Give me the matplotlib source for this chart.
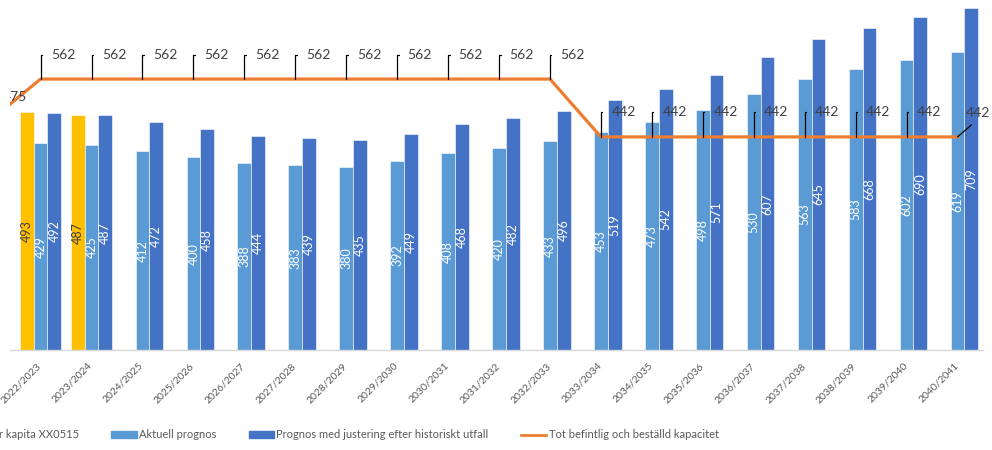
import matplotlib
matplotlib.use("Agg")
import matplotlib.pyplot as plt
from matplotlib.patches import Patch
from matplotlib.lines import Line2D
from matplotlib.transforms import ScaledTranslation
import numpy as np

plt.rcParams['font.family'] = ['Lato', 'DejaVu Sans']

# kategorier (läsår)
kategorier = ["2022/2023", "2023/2024", "2024/2025", "2025/2026", "2026/2027",
              "2027/2028", "2028/2029", "2029/2030", "2030/2031", "2031/2032",
              "2032/2033", "2033/2034", "2034/2035", "2035/2036", "2036/2037",
              "2037/2038", "2038/2039", "2039/2040", "2040/2041"]

# utfall (bara de två första åren)
utfall = [493, 487]
aktuell = [429, 425, 412, 400, 388, 383, 380, 392, 408, 420,
           433, 453, 473, 498, 530, 563, 583, 602, 619]
justerad = [492, 487, 472, 458, 444, 439, 435, 449, 468, 482,
            496, 519, 542, 571, 607, 645, 668, 690, 709]
# kapacitet, första värdet hör till 2021/2022 som är avklippt
kapacitet_fore = 475
kapacitet = [562, 562, 562, 562, 562, 562, 562, 562, 562, 562,
             562, 442, 442, 442, 442, 442, 442, 442, 442]

GUL = "#FFC000"
LJUSBLA = "#5B9BD5"
MORKBLA = "#4472C4"
ORANGE = "#ED7D31"
GRA = "#595959"
MORK = "#404040"

fig = plt.figure(figsize=(9.92, 4.5), dpi=100)
ax = fig.add_axes([10 / 992, 100 / 450, 973 / 992, 350 / 450])

x = np.arange(len(kategorier))
w = 0.27

b1 = ax.bar(x[:len(utfall)] - w, utfall, w, color=GUL, edgecolor="white", linewidth=0.4)
b2 = ax.bar(x, aktuell, w, color=LJUSBLA, edgecolor="white", linewidth=0.4)
b3 = ax.bar(x + w, justerad, w, color=MORKBLA, edgecolor="white", linewidth=0.4)

ax.bar_label(b1, label_type="center", rotation=90, color=MORK, fontsize=9)
ax.bar_label(b2, label_type="center", rotation=90, color="white", fontsize=9)
ax.bar_label(b3, label_type="center", rotation=90, color="white", fontsize=9)

# kapacitetslinjen (klipps vid diagramytan)
xs = np.concatenate([[-1], x])
ys = [kapacitet_fore] + kapacitet
ax.plot(xs, ys, color=ORANGE, lw=2.3, zorder=3)

# datalabels för linjen
ax.annotate(str(kapacitet_fore), xy=(-1, kapacitet_fore), xytext=(13.5, 24),
            textcoords="offset pixels", ha="left", va="center",
            fontsize=10, color=MORK, annotation_clip=False, clip_on=True)
for i, v in enumerate(kapacitet):
    if i == len(kapacitet) - 1:
        ax.annotate(str(v), xy=(i, v), xytext=(8, 23.5),
                    textcoords="offset pixels", ha="left", va="center",
                    fontsize=10, color=MORK, annotation_clip=False,
                    arrowprops=dict(arrowstyle="-", color="black", lw=0.9,
                                    relpos=(0.5, 0), shrinkA=3, shrinkB=0))
    else:
        ax.annotate(str(v), xy=(i, v), xytext=(10.5, 24.5),
                    textcoords="offset pixels", ha="left", va="center",
                    fontsize=10, color=MORK, annotation_clip=False,
                    arrowprops=dict(arrowstyle="-", color="black", lw=0.9,
                                    connectionstyle="angle,angleA=0,angleB=90,rad=0",
                                    relpos=(0, 0.5), shrinkA=4.5, shrinkB=0))

ax.set_xlim(-0.6, 18.5)
ax.set_ylim(0, 726)
ax.set_yticks([])
for s in ["top", "right", "left"]:
    ax.spines[s].set_visible(False)
ax.spines["bottom"].set_color("#D9D9D9")
ax.spines["bottom"].set_linewidth(1)

ax.set_xticks(x)
ax.set_xticklabels(kategorier, rotation=45, ha="right", fontsize=7.5, color=GRA)
ax.tick_params(axis="x", length=0, pad=8)
flytt = ScaledTranslation(2.5 / 100, 0, fig.dpi_scale_trans)
for lbl in ax.get_xticklabels():
    lbl.set_transform(lbl.get_transform() + flytt)

handles = [Patch(color=GUL), Patch(color=LJUSBLA), Patch(color=MORKBLA),
           Line2D([0], [0], color=ORANGE, lw=2)]
labels = ["Utfall per kapita XX0515", "Aktuell prognos",
          "Prognos med justering efter historiskt utfall",
          "Tot befintlig och beställd kapacitet"]
leg = fig.legend(handles, labels, ncol=4, frameon=False, fontsize=8,
                 labelcolor=GRA, handlelength=2.3, handleheight=0.55,
                 handletextpad=0.2, columnspacing=2.9,
                 loc="center left", bbox_to_anchor=(0, 15 / 450), borderaxespad=0)

fig.canvas.draw()
bb = leg.get_texts()[1].get_window_extent()
dx = 139 - bb.x0
leg.set_bbox_to_anchor((dx / 992, 15 / 450))

fig.savefig("out.png", dpi=100)
